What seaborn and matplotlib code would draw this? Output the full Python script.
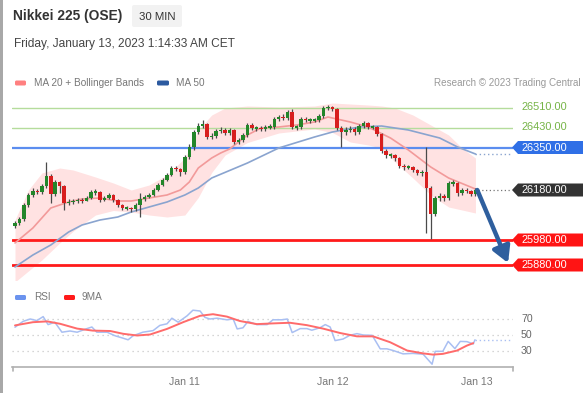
import numpy as np
import pandas as pd
import matplotlib
matplotlib.use("Agg")
import matplotlib.pyplot as plt
import seaborn as sns
from matplotlib.patches import Polygon, FancyBboxPatch, Rectangle

sns.set_theme(style="white")
plt.rcParams['font.family'] = ['Liberation Sans', 'DejaVu Sans']

# ---------------- data ----------------
closes = [26048, 26064, 26120, 26160, 26176, 26172, 26196, 26236, 26164, 26212,
          26196, 26128, 26132, 26136, 26140, 26136, 26148, 26172, 26172, 26140,
          26148, 26160, 26140, 26120, 26108, 26108, 26104, 26120, 26144, 26152,
          26160, 26180, 26200, 26220, 26240, 26268, 26264, 26252, 26312, 26352,
          26412, 26436, 26444, 26392, 26396, 26416, 26420, 26408, 26420, 26372,
          26380, 26400, 26440, 26428, 26428, 26424, 26432, 26432, 26464, 26472,
          26468, 26492, 26432, 26432, 26464, 26460, 26460, 26460, 26476, 26508,
          26512, 26504, 26428, 26412, 26420, 26424, 26412, 26436, 26448, 26432,
          26432, 26404, 26336, 26320, 26320, 26308, 26276, 26272, 26272, 26260,
          26248, 26252, 26188, 26084, 26148, 26156, 26148, 26208, 26208, 26168,
          26180, 26176, 26164, 26180]
opens = [26036, 26048, 26064, 26120, 26160, 26176, 26172, 26196, 26236, 26164,
         26212, 26196, 26128, 26132, 26136, 26140, 26136, 26148, 26172, 26172,
         26140, 26148, 26160, 26140, 26120, 26108, 26108, 26104, 26120, 26144,
         26152, 26160, 26180, 26200, 26220, 26240, 26268, 26264, 26252, 26312,
         26352, 26412, 26436, 26444, 26392, 26396, 26416, 26420, 26408, 26420,
         26372, 26380, 26400, 26440, 26428, 26428, 26424, 26432, 26432, 26464,
         26472, 26468, 26492, 26432, 26432, 26464, 26460, 26460, 26460, 26476,
         26508, 26512, 26504, 26428, 26412, 26420, 26424, 26412, 26436, 26448,
         26432, 26432, 26404, 26336, 26320, 26320, 26308, 26276, 26272, 26272,
         26260, 26248, 26252, 26188, 26084, 26148, 26156, 26148, 26208, 26208,
         26168, 26180, 26176, 26164]
highs = [26056, 26072, 26128, 26168, 26188, 26184, 26204, 26292, 26244, 26220,
         26216, 26200, 26144, 26144, 26148, 26148, 26156, 26180, 26184, 26176,
         26156, 26168, 26164, 26144, 26124, 26116, 26112, 26128, 26168, 26160,
         26168, 26188, 26208, 26228, 26248, 26276, 26276, 26268, 26320, 26364,
         26420, 26448, 26460, 26448, 26408, 26424, 26432, 26428, 26428, 26424,
         26388, 26408, 26448, 26448, 26436, 26436, 26440, 26444, 26472, 26480,
         26484, 26500, 26504, 26440, 26472, 26472, 26468, 26468, 26484, 26516,
         26520, 26516, 26508, 26436, 26432, 26436, 26432, 26444, 26456, 26452,
         26440, 26436, 26408, 26344, 26328, 26324, 26312, 26284, 26280, 26276,
         26264, 26260, 26352, 26196, 26156, 26168, 26164, 26216, 26220, 26212,
         26188, 26188, 26180, 26188]
lows = [26028, 26040, 26056, 26112, 26152, 26164, 26164, 26188, 26128, 26156,
        26168, 26100, 26120, 26124, 26128, 26128, 26136, 26144, 26160, 26132,
        26136, 26144, 26132, 26112, 26100, 26100, 26092, 26096, 26072, 26136,
        26148, 26156, 26176, 26196, 26216, 26236, 26256, 26236, 26244, 26304,
        26340, 26404, 26428, 26384, 26384, 26388, 26408, 26400, 26400, 26364,
        26364, 26372, 26392, 26420, 26416, 26416, 26416, 26424, 26424, 26456,
        26460, 26460, 26424, 26420, 26424, 26452, 26448, 26452, 26452, 26468,
        26500, 26496, 26420, 26352, 26400, 26412, 26400, 26404, 26428, 26424,
        26424, 26396, 26328, 26308, 26308, 26296, 26268, 26260, 26264, 26252,
        26240, 26236, 26008, 25984, 26076, 26136, 26136, 26140, 26196, 26156,
        26160, 26168, 26156, 26156]

ma20_idx = [0, 4, 8, 12, 15, 19, 23, 26, 30, 34, 37, 39, 41, 44, 46, 48, 52, 55,
            59, 63, 67, 70, 75, 79, 84, 88, 93, 97, 103]
ma20_val = [25968, 26028, 26108, 26132, 26144, 26148, 26136, 26136, 26148, 26160,
            26180, 26212, 26268, 26308, 26328, 26344, 26400, 26428, 26432, 26440,
            26452, 26472, 26452, 26432, 26388, 26340, 26272, 26228, 26184]

ma50_idx = [0, 4, 8, 12, 15, 19, 23, 26, 30, 34, 38, 41, 44, 52, 59, 67, 71, 77,
            82, 88, 95, 99, 103]
ma50_val = [25872, 25920, 25960, 26012, 26040, 26060, 26072, 26092, 26112, 26132,
            26160, 26188, 26228, 26288, 26348, 26392, 26412, 26432, 26436, 26420,
            26388, 26352, 26324]

bb_idx = [0, 3, 6, 10, 13, 18, 22, 26, 30, 34, 38, 41, 44, 47, 52, 59, 67, 71,
          75, 79, 82, 85, 89, 93, 97, 100, 103]
bb_upper = [26060, 26180, 26248, 26268, 26260, 26232, 26208, 26180, 26200, 26240,
            26308, 26420, 26480, 26508, 26516, 26512, 26516, 26528, 26524, 26520,
            26516, 26508, 26480, 26440, 26400, 26348, 26308]
bb_lower = [25812, 25856, 25900, 25968, 26015, 26080, 26098, 26092, 26080, 26072,
            26080, 26150, 26250, 26320, 26370, 26408, 26424, 26410, 26372, 26360,
            26348, 26292, 26228, 26160, 26112, 26100, 26088]

rsi_idx = [0, 1.8, 3.4, 4.9, 6.3, 7.4, 8.9, 10.5, 12.3, 13.9, 16.1, 17.2, 18.3,
           20.6, 22.4, 23.9, 25.3, 26.4, 28.6, 30.9, 32.4, 34, 35.1, 36.5, 38.5,
           39.8, 41.4, 42.5, 43.6, 45.2, 47.4, 48.8, 49.7, 51, 52.1, 54.1, 56.4,
           57.7, 59.7, 60.9, 62, 63.8, 65.3, 66.4, 68.2, 69.4, 70.5, 71.6, 73.4,
           74.9, 76.5, 77.9, 79.9, 81.7, 83.2, 84.6, 86.8, 89, 91.3, 93.3, 94,
           95.7, 96.9, 98.4, 99.6, 101.1, 102.5, 102.9]
rsi_val = [59.7, 67, 70, 68, 73, 63, 66, 53.5, 55, 53.5, 58, 60, 53.5, 53.5, 49,
           46.5, 44, 49, 53.5, 55.5, 62, 64, 71, 66, 74, 81, 80, 72, 70, 71, 69,
           70, 57.6, 59, 67, 63, 63, 69, 69, 70, 53, 58, 58, 56, 59, 63, 60, 43,
           45, 49.6, 51.7, 50, 49.6, 32.7, 32.7, 30.6, 26.4, 27, 26, 13.5, 29.6,
           29.6, 42, 33, 42, 41.7, 38.8, 44]

ma9_idx = [0, 4, 7.2, 10.1, 13.9, 17.4, 21.3, 24.2, 27.3, 30.2, 34, 37.6, 41.4,
           44.3, 47.4, 50.3, 54.1, 57.7, 61.5, 65.3, 68.9, 72.7, 76.5, 80.1,
           83.9, 87.7, 91.3, 93.5, 95.7, 98.9, 101.1, 102.5]
ma9_val = [62, 66, 67, 64, 58, 55.5, 55, 51.5, 49.4, 50.6, 57.6, 66, 74, 76, 73,
           67.5, 63.6, 64.5, 65.3, 62.3, 58, 52.5, 48.3, 48.3, 41, 30.6, 27, 25.5,
           26.4, 30.6, 36.8, 39.8]

levels_green = [26510, 26430]
level_blue = 26350
last_price = 26180
levels_red = [25980, 25880]
target_price = 25888

tick_pos = [38, 71, 103.4]
tick_labels = ["Jan 11", "Jan 12", "Jan 13"]
rsi_levels = [70, 50, 30]

# ---------------- layout ----------------
W, H = 588, 393
fig = plt.figure(figsize=(W / 100, H / 100), dpi=100)
fig.patch.set_facecolor("white")


def box(l, t, r, b):
    return [l / W, 1 - b / H, (r - l) / W, (b - t) / H]


XMIN, XMAX = -0.67, 111.4
ax = fig.add_axes(box(12, 95, 513, 280))
axr = fig.add_axes(box(12, 305, 513, 367))
ov = fig.add_axes([0, 0, 1, 1], zorder=5)
ov.set_xlim(0, W)
ov.set_ylim(H, 0)
ov.axis("off")
ov.patch.set_alpha(0)

# ---------------- price panel ----------------
ax.set_xlim(XMIN, XMAX)
ax.set_ylim(25820, 26560)
ax.axis("off")

ax.fill_between(bb_idx, bb_lower, bb_upper, color="#ffd6d6", alpha=0.7, lw=0, zorder=1)
for lv in levels_green:
    ax.axhline(lv, color="#b5dc9c", lw=1.0, zorder=2)
ax.axhline(level_blue, color="#5b8def", lw=1.6, zorder=2)
for lv in levels_red:
    ax.axhline(lv, color="#ff1a1a", lw=2.0, zorder=2)

sns.lineplot(x=ma50_idx, y=ma50_val, ax=ax, color="#8aa4cf", lw=1.2, zorder=3)
sns.lineplot(x=ma20_idx, y=ma20_val, ax=ax, color="#f29a9a", lw=1.2, zorder=3)
ax.plot([ma50_idx[-1], 110.7], [ma50_val[-1], ma50_val[-1]], color="#8aa4cf",
        lw=1.0, ls=(0, (1, 2)), zorder=3)

df = pd.DataFrame(dict(i=np.arange(len(closes)), o=opens, c=closes, h=highs, l=lows))
up = df.c >= df.o
ax.vlines(df.i, df.l, df.h, color="#4a4a4a", lw=0.9, zorder=4)
body = (df.c - df.o).abs().clip(lower=5)
ax.bar(df.i, body, bottom=np.minimum(df.o, df.c) - (body - (df.c - df.o).abs()) / 2,
       width=0.78, color=np.where(up, "#23862a", "#d81e1e"), lw=0, zorder=5)

ax.plot([len(closes) - 0.5, 110.7], [last_price, last_price], color="#777777",
        lw=0.9, ls=(0, (1, 2)), zorder=3)
ax.annotate("", xy=(110.3, target_price), xytext=(len(closes) - 0.6, last_price),
            arrowprops=dict(arrowstyle="-|>,head_length=0.8,head_width=0.45",
                            color="#2f5f9e", lw=3.2, shrinkA=0, shrinkB=0),
            zorder=6, annotation_clip=False)

# ---------------- RSI panel ----------------
axr.set_xlim(XMIN, XMAX)
axr.set_ylim(10, 87.5)
for lv in rsi_levels:
    axr.axhline(lv, color="#c8c8c8", lw=0.9, ls=(0, (1, 3)))
sns.lineplot(x=rsi_idx, y=rsi_val, ax=axr, color="#a9bff2", lw=1.1)
sns.lineplot(x=ma9_idx, y=ma9_val, ax=axr, color="#ff6b6b", lw=1.4)
axr.plot([rsi_idx[-1], 110.7], [rsi_val[-1], rsi_val[-1]], color="#a9bff2", lw=1.0,
         ls=(0, (1, 2)))
for s in ["top", "left", "right"]:
    axr.spines[s].set_visible(False)
axr.spines["bottom"].set_color("#b0b0b0")
axr.spines["bottom"].set_linewidth(1.2)
axr.set_yticks([])
axr.set_xticks(tick_pos)
axr.set_xticklabels(tick_labels, fontsize=7.6, color="#777777")
axr.tick_params(axis="x", length=0, pad=7)
axr.set_xlabel("")
axr.set_ylabel("")
ax.set_xlabel("")
ax.set_ylabel("")

# bracket ends
ov.plot([12.5, 12.5], [367, 371], color="#b0b0b0", lw=1.2)
ov.plot([512.5, 512.5], [367, 371], color="#b0b0b0", lw=1.2)

# RSI level labels
for lv in rsi_levels:
    ov.text(521, 319 + (70 - lv) * 0.8, str(lv), fontsize=7.6, color="#666666",
            va="center", ha="left")

# ---------------- header ----------------
ov.add_patch(Rectangle((0, 0), 2.5, H, color="#a8a8a8", lw=0))
ov.text(13, 16, "Nikkei 225 (OSE)", fontsize=9.9, fontweight="bold", color="#333333",
        va="center", ha="left")
ov.add_patch(FancyBboxPatch((132, 5), 50, 22, boxstyle="round,pad=0,rounding_size=2",
                            fc="#f2f2f2", ec="none"))
ov.text(157, 16.5, "30 MIN", fontsize=8.2, color="#333333", va="center", ha="center")
ov.text(14, 44.5, "Friday, January 13, 2023 1:14:33 AM CET", fontsize=8.6,
        color="#444444", va="center", ha="left")

# legend row
ov.add_patch(FancyBboxPatch((15, 80.5), 11, 5, boxstyle="round,pad=0,rounding_size=1.5",
                            fc="#ff8080", ec="none"))
ov.text(34, 83, "MA 20 + Bollinger Bands", fontsize=7.2, color="#777777", va="center")
ov.add_patch(FancyBboxPatch((157, 80.5), 12, 5, boxstyle="round,pad=0,rounding_size=1.5",
                            fc="#2c5aa0", ec="none"))
ov.text(176, 83, "MA 50", fontsize=7.2, color="#777777", va="center")
ov.text(581, 83, "Research \u00a9 2023 Trading Central", fontsize=7.1, color="#999999",
        va="center", ha="right")

# RSI legend
ov.add_patch(FancyBboxPatch((15, 295), 11, 5, boxstyle="round,pad=0,rounding_size=1.5",
                            fc="#6b93ee", ec="none"))
ov.text(34, 297.5, "RSI", fontsize=7.2, color="#777777", va="center")
ov.add_patch(FancyBboxPatch((64, 295), 11, 5, boxstyle="round,pad=0,rounding_size=1.5",
                            fc="#ff1a1a", ec="none"))
ov.text(82, 297.5, "9MA", fontsize=7.2, color="#777777", va="center")


# price labels
def py(p):
    return 190 + (last_price - p) / 4.0


for lv in levels_green:
    ov.text(521, py(lv), f"{lv:.2f}", fontsize=7.9, color="#76b447", va="center")


def tag(p, color):
    y = py(p)
    h = 6.5
    ov.add_patch(Polygon([(512, y), (518, y - h), (583, y - h), (583, y + h), (518, y + h)],
                         closed=True, fc=color, ec="none"))
    ov.text(521, y + 0.3, f"{p:.2f}", fontsize=7.9, color="white", va="center")


tag(level_blue, "#2f6fe6")
tag(last_price, "#333333")
for lv in levels_red:
    tag(lv, "#ff1414")

fig.savefig("out.png", dpi=100)
